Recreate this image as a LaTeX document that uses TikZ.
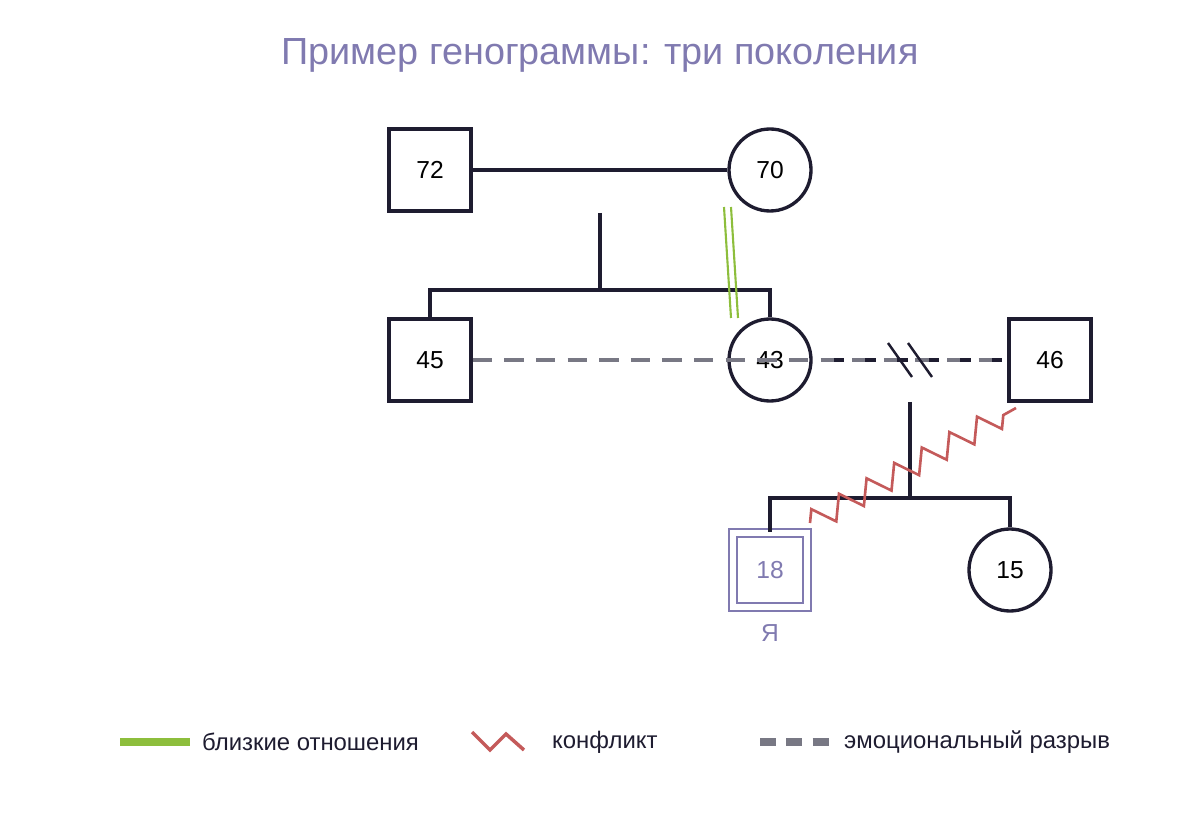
\documentclass[tikz,border=0pt]{standalone}
\usepackage{fontspec}
\setmainfont{Liberation Sans}
\usetikzlibrary{positioning, calc, decorations.pathmorphing}
\definecolor{inkdark}{RGB}{30, 28, 48}
\definecolor{titlepurple}{RGB}{128, 122, 176}
\definecolor{closegreen}{RGB}{141, 190, 60}
\definecolor{conflictred}{RGB}{196, 90, 90}
\definecolor{cutgray}{RGB}{120, 120, 132}
\tikzset{
  male/.style={draw=inkdark, line width=1.9pt, minimum size=82*0.02cm, inner sep=0pt, font=\fontsize{14}{14}\selectfont},
  female/.style={draw=inkdark, line width=1.9pt, circle, minimum size=82*0.02cm, inner sep=0pt, font=\fontsize{14}{14}\selectfont},
  tie/.style={draw=inkdark, line width=1.9pt},
  cutoff/.style={cutgray, line width=2pt, dash pattern=on 11pt off 7pt},
  conflict/.style={conflictred, line width=1.5pt, decorate, decoration={zigzag, segment length=18pt, amplitude=6.5pt}},
  legendtext/.style={anchor=west, font=\fontsize{13.6}{14}\selectfont, text=inkdark}
}
\begin{document}
\begin{tikzpicture}[x=0.02cm, y=-0.02cm]
  \useasboundingbox (0,0) rectangle (1200,820);
  % title
  \node[text=titlepurple, font=\fontsize{21.5}{22}\selectfont] (title) at (600,55) {Пример генограммы: три поколения};

  % grandparents
  \node[male] (gf) at (430,170) {72};
  \node[female] (gm) at (770,170) {70};
  \draw[tie] (gf) -- (gm);
  \coordinate (gdrop) at (600,213);
  \coordinate (gbar) at (600,290);
  \draw[tie] (gdrop) -- (gbar);

  % parents
  \node[male] (uncle) at (430,360) {45};
  \node[female] (mother) at (770,360) {43};
  \node[male] (father) at (1050,360) {46};
  \draw[tie] (uncle.north) |- (gbar) -| (mother.north);

  % cutoff and divorce
  \draw[cutoff] (uncle.east) -- (father.west);
  \draw[inkdark, line width=2pt, dash pattern=on 6pt off 12pt, dash phase=-12pt] (mother.east) -- (father.west);
  \coordinate (cut1a) at (888,343); \coordinate (cut1b) at (912,377);
  \coordinate (cut2a) at (908,343); \coordinate (cut2b) at (932,377);
  \draw[tie, line width=1.4pt] (cut1a) -- (cut1b);
  \draw[tie, line width=1.4pt] (cut2a) -- (cut2b);

  % close relation
  \coordinate (closeA) at (727,207); \coordinate (closeB) at (734,318);
  \draw[closegreen, line width=1.2pt] ($(closeA)+(-3,0)$) -- ($(closeB)+(-3,0)$);
  \draw[closegreen, line width=1.2pt] ($(closeA)+(4,0)$) -- ($(closeB)+(4,0)$);

  % children
  \node[male, draw=titlepurple, double=white, double distance=3pt, line width=1.4pt, minimum size=74*0.02cm, text=titlepurple] (me) at (770,570) {18};
  \node[below=10*0.02cm of me, text=titlepurple, font=\fontsize{14}{14}\selectfont] (melabel) {Я};
  \node[female] (sister) at (1010,570) {15};
  \coordinate (pdrop) at (910,402);
  \coordinate (pbar) at (910,498);
  \draw[tie] (pdrop) -- (pbar);
  \draw[tie] (me.north) |- (pbar) -| (sister.north);

  % conflict
  \coordinate (confA) at (810,523);
  \coordinate (confB) at (1016,408);
  \draw[conflict] (confA) -- (confB);

  % legend
  \coordinate (lg1a) at (120,742); \coordinate (lg1b) at (190,742);
  \draw[closegreen, line width=5pt] (lg1a) -- (lg1b);
  \node[legendtext] (lgtext1) at (196,742) {близкие отношения};
  \coordinate (lg2a) at (472,732); \coordinate (lg2b) at (524,750);
  \draw[conflictred, line width=2pt] (lg2a) -- (490,750) -- (506,734) -- (lg2b);
  \node[legendtext] (lgtext2) at (546,742) {конфликт};
  \coordinate (lg3a) at (760,742); \coordinate (lg3b) at (830,742);
  \draw[cutgray, line width=4pt, dash pattern=on 9pt off 6pt] (lg3a) -- (lg3b);
  \node[legendtext] (lgtext3) at (838,742) {эмоциональный разрыв};
\end{tikzpicture}
\end{document}
